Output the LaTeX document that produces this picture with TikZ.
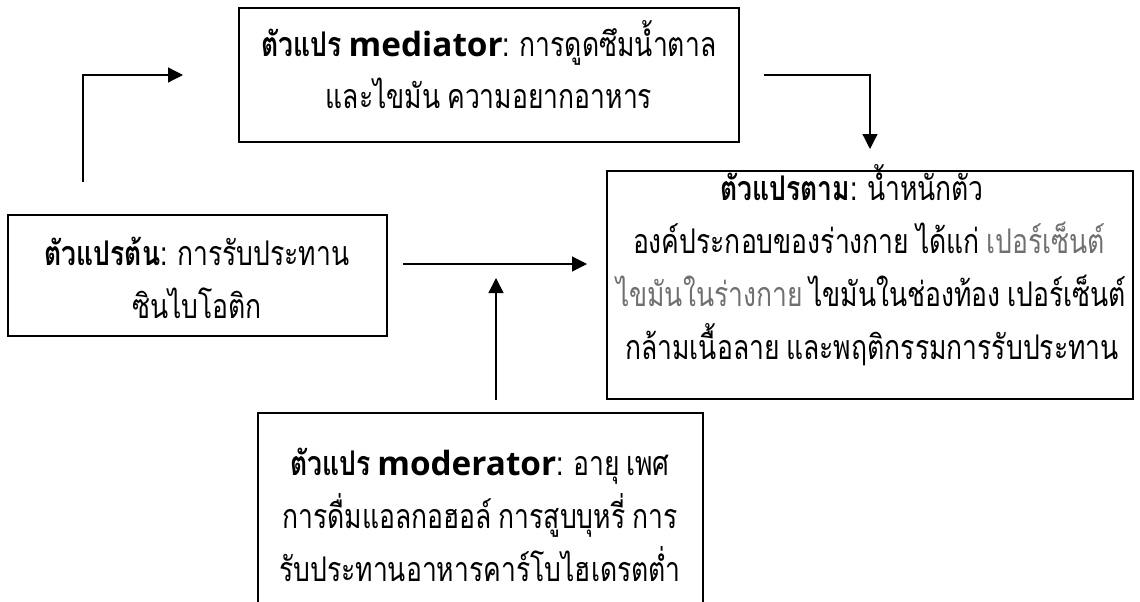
\documentclass[tikz,border=0pt]{standalone}
\usepackage{fontspec}
\setmainfont[Script=Thai,FakeStretch=0.78,WordSpace=0.75]{Loma}
\newfontfamily\lat[Scale=0.98]{Open Sans}
\usetikzlibrary{arrows.meta}
\definecolor{txtgray}{HTML}{707070}
\tikzset{
  box/.style={draw=black, line width=1.3pt, inner sep=0pt},
  ln/.style={anchor=base, inner sep=0pt, font=\fontsize{34}{34}\selectfont},
  conn/.style={line width=1.3pt, -{Triangle[length=15pt,width=15pt]}},
  plain/.style={line width=1.3pt}
}
\begin{document}
\begin{tikzpicture}[x=1pt,y=-1pt]
\clip (0,0) rectangle (1140,602);
\fill[white] (0,0) rectangle (1140,602);
% boxes
\node[box, minimum width=500pt, minimum height=134pt] (med) at (489,75) {};
\node[box, minimum width=379pt, minimum height=121pt] (iv) at (197.5,275.5) {};
\node[box, minimum width=526pt, minimum height=228pt] (dv) at (870,285) {};
\node[box, minimum width=445pt, minimum height=237pt] (mod) at (480.5,531.5) {};
% texts
\node[ln] (med1) at (489,57) {\textbf{ตัวแปร {\lat mediator}}: การดูดซึมน้ำตาล};
\node[ln] (med2) at (489,108) {และไขมัน ความอยากอาหาร};
\node[ln] (iv1) at (197,265) {\textbf{ตัวแปรต้น}: การรับประทาน};
\node[ln] (iv2) at (197,318) {ซินไบโอติก};
\node[ln] (dv1) at (852,200) {\textbf{ตัวแปรตาม}: น้ำหนักตัว};
\node[ln] (dv2) at (869,253) {องค์ประกอบของร่างกาย ได้แก่ \textcolor{txtgray}{เปอร์เซ็นต์}};
\node[ln] (dv3) at (871,306) {\textcolor{txtgray}{ไขมันในร่างกาย} ไขมันในช่องท้อง เปอร์เซ็นต์};
\node[ln] (dv4) at (872,359) {กล้ามเนื้อลาย และพฤติกรรมการรับประทาน};
\node[ln] (mod1) at (480,475) {\textbf{ตัวแปร {\lat moderator}}: อายุ เพศ};
\node[ln] (mod2) at (480,528) {การดื่มแอลกอฮอล์ การสูบบุหรี่ การ};
\node[ln] (mod3) at (480,581) {รับประทานอาหารคาร์โบไฮเดรตต่ำ};
% connector coordinates
\coordinate (c1s) at (83,182);
\coordinate (c1e) at (183,75);
\coordinate (c2s) at (764,75);
\coordinate (c2e) at (870,149);
\coordinate (c3s) at (403,264);
\coordinate (c3e) at (587,264);
\coordinate (c4s) at (496,400);
\coordinate (c4e) at (496,278);
\draw[conn] (c1s) |- (c1e);
\draw[conn] (c2s) -| (c2e);
\draw[conn] (c3s) -- (c3e);
\draw[conn] (c4s) -- (c4e);
\end{tikzpicture}
\end{document}
